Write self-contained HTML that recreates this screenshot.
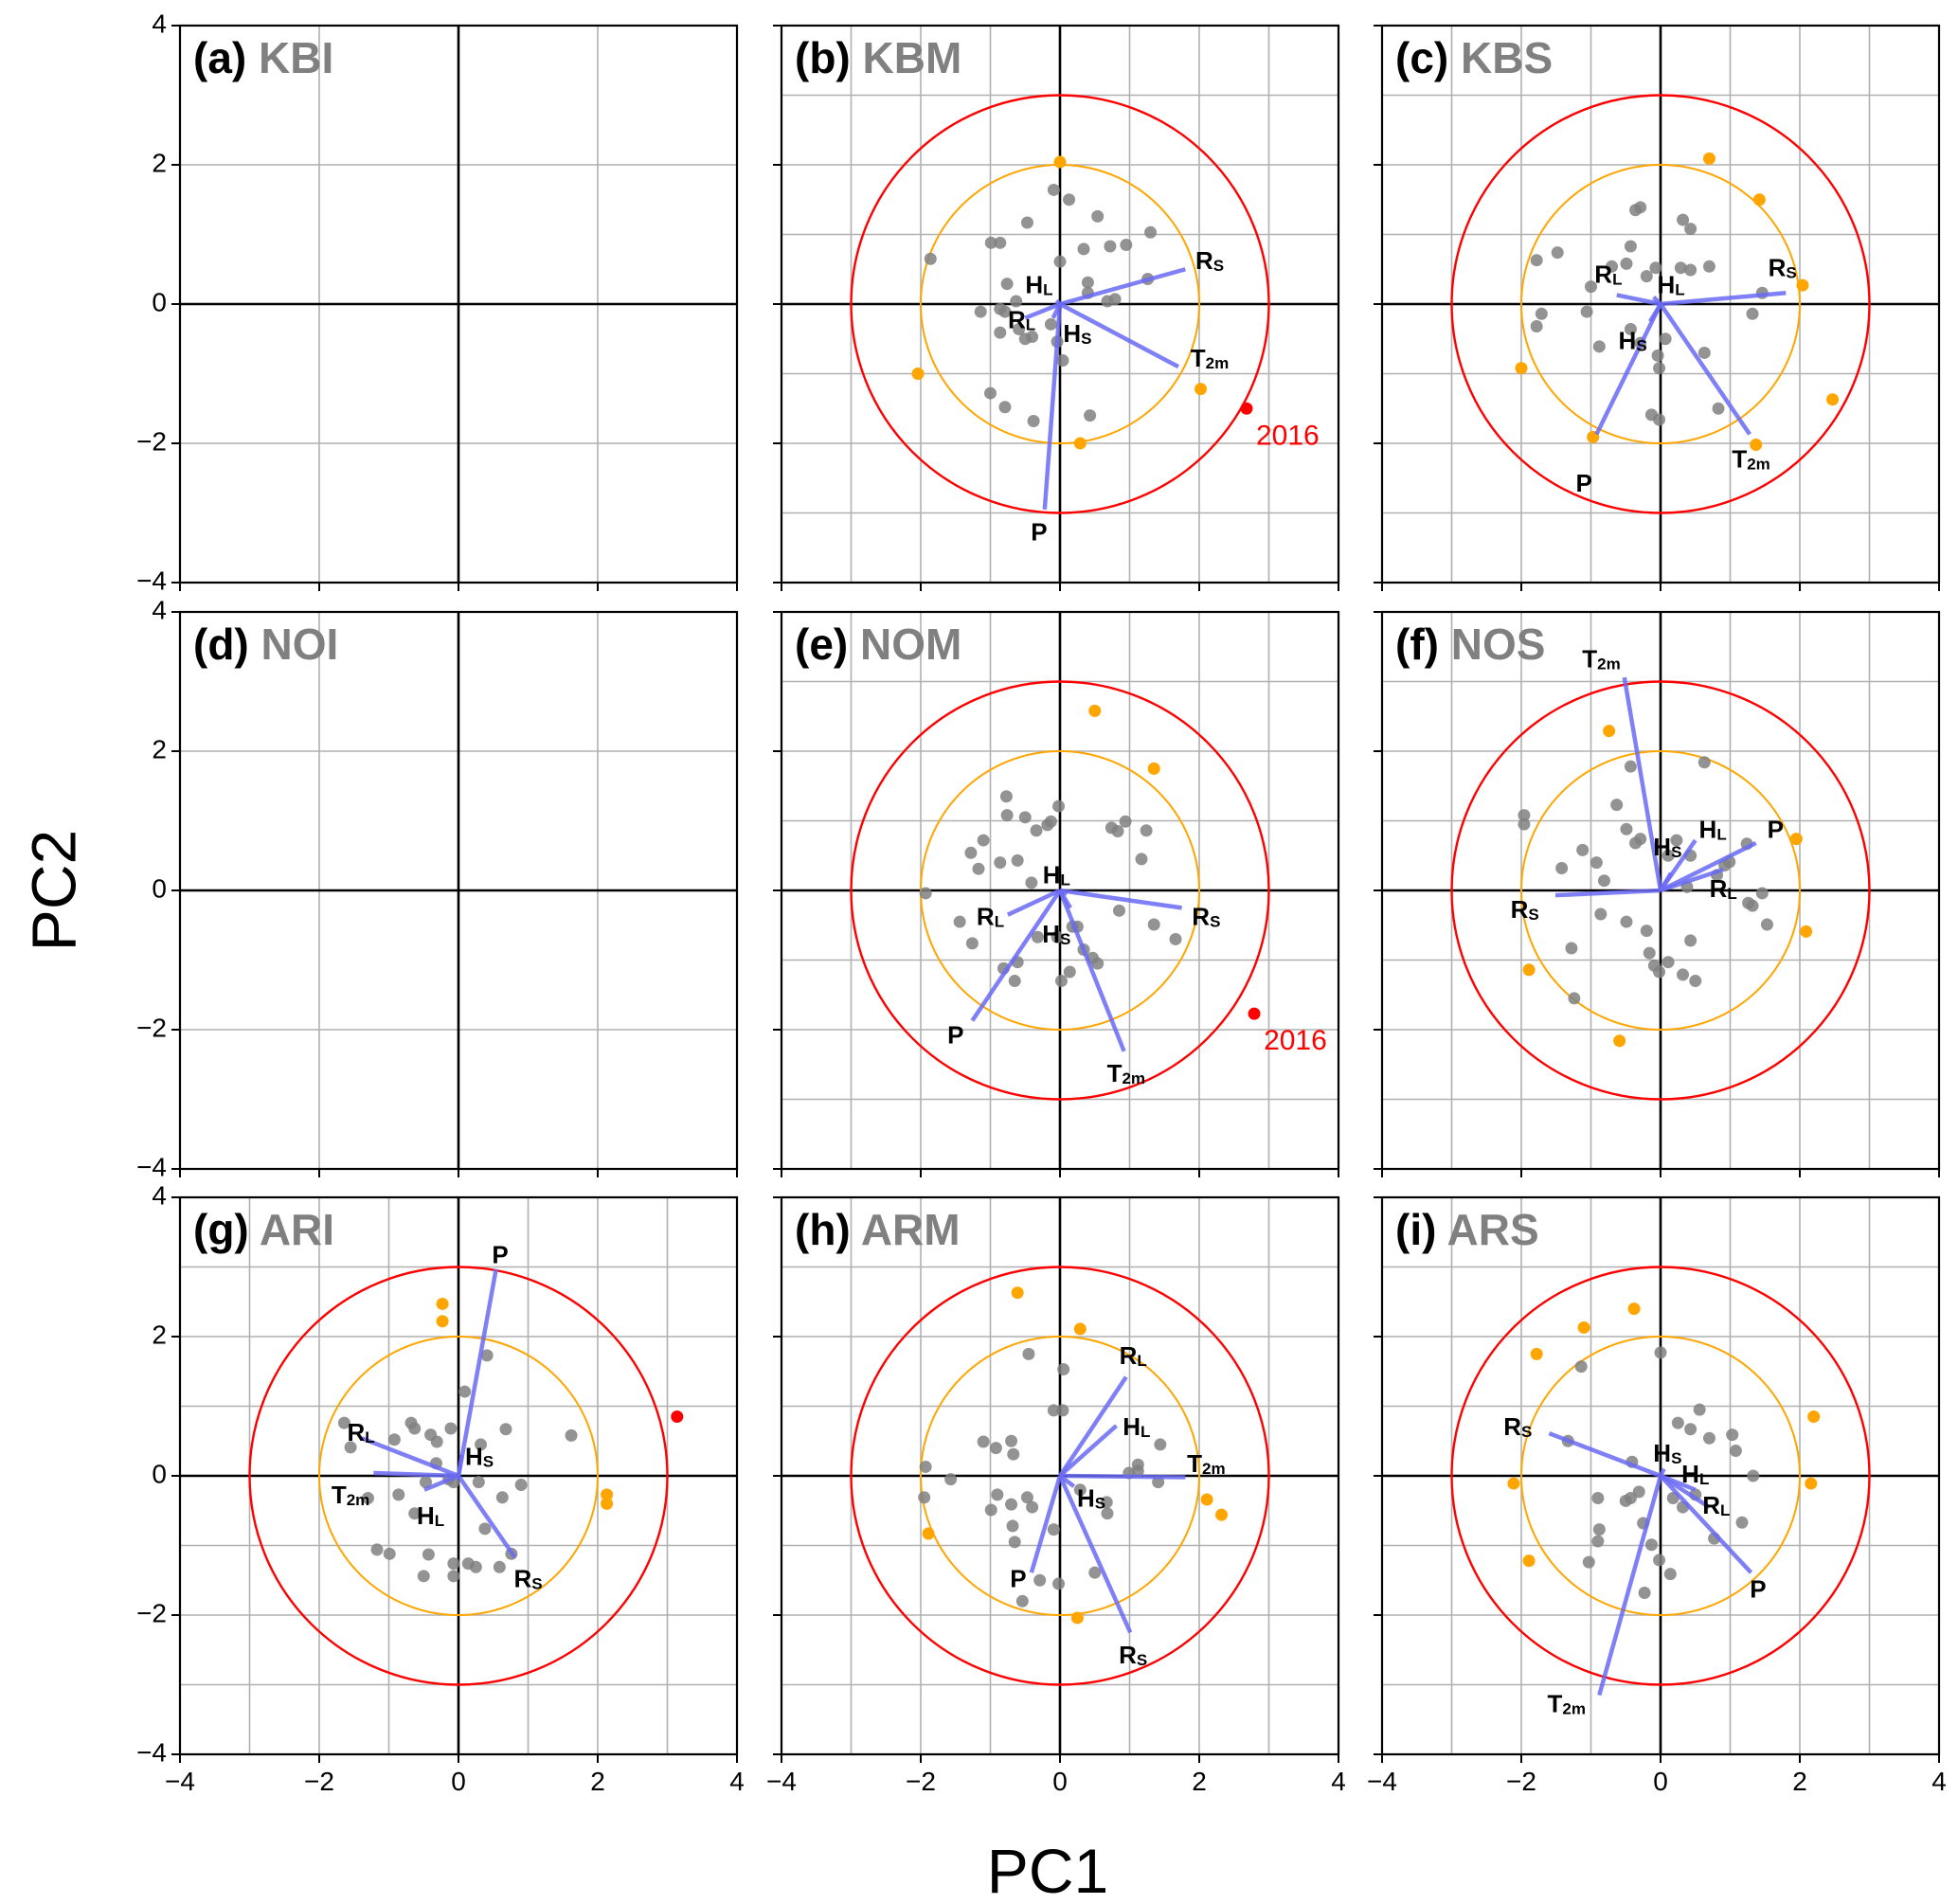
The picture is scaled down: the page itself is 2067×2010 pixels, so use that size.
<!DOCTYPE html>
<html><head><meta charset="utf-8">
<style>
html,body{margin:0;padding:0;background:#fff;}
svg{display:block;font-family:"Liberation Sans",sans-serif;}
</style></head>
<body>
<svg id="fig" width="2067" height="2010" viewBox="0 0 2067 2010" xmlns="http://www.w3.org/2000/svg">
<text x="62" y="940" font-size="66" text-anchor="middle" transform="rotate(-90 62 940)" dominant-baseline="middle">PC2</text>
<text x="1106" y="1998" font-size="66" text-anchor="middle">PC1</text>
</svg>
<script>
// ---- data (data units, PC1 / PC2) ----
const kbmGrayX=[-1.86,-0.99,-0.86,-0.47,-0.09,0.13,0.54,0.34,0.72,0.95,1.3,0,0.4,0.4,0.79,0.68,1.26,-0.76,-0.63,-1.14,-0.86,-0.79,-0.86,-0.59,-0.5,-0.4,-0.13,-0.04,0.04,-1.0,-0.79,-0.38,0.43];
const kbmGrayY=[0.65,0.88,0.88,1.17,1.64,1.5,1.26,0.79,0.83,0.85,1.03,0.61,0.31,0.16,0.07,0.04,0.36,0.29,0.04,-0.11,-0.07,-0.11,-0.41,-0.36,-0.5,-0.47,-0.29,-0.54,-0.81,-1.28,-1.48,-1.68,-1.6];
const kbmOrangeX=[0,-2.04,2.02,0.29];
const kbmOrangeY=[2.04,-1.0,-1.22,-2.0];
const kbmRedX=[2.68];
const kbmRedY=[-1.5];
const kbmArrowX=[1.8,1.7,-0.1,-0.05,-0.5,-0.22];
const kbmArrowY=[0.5,-0.9,-0.2,0.05,-0.2,-2.95];

const kbsGrayX=[-1.78,-1.48,-1.71,-1.78,-1.06,-0.88,-1.0,-0.7,-0.43,-0.49,-0.36,-0.29,-0.2,-0.07,0.32,0.43,0.29,0.43,0.7,0.07,-0.04,-0.02,-0.43,-0.29,-0.13,-0.02,0.63,0.83,1.32,1.46];
const kbsGrayY=[0.63,0.74,-0.14,-0.32,-0.11,-0.61,0.25,0.54,0.83,0.58,1.35,1.39,0.4,0.52,1.21,1.08,0.52,0.49,0.54,-0.5,-0.74,-0.92,-0.36,-0.56,-1.59,-1.66,-0.7,-1.5,-0.14,0.16];
const kbsOrangeX=[0.7,1.42,2.04,2.47,-2.0,-0.97,1.37];
const kbsOrangeY=[2.09,1.5,0.27,-1.37,-0.92,-1.91,-2.02];
const kbsArrowX=[1.8,-0.63,-0.1,-0.15,1.28,-0.92];
const kbsArrowY=[0.16,0.13,0.1,-0.25,-1.87,-1.87];

const nomGrayX=[-1.93,-1.28,-1.1,-1.17,-0.86,-0.77,-0.76,-0.5,-0.61,-0.34,-0.18,-0.13,-0.02,-0.41,-1.44,-1.26,-0.81,-0.61,-0.65,-0.32,-0.04,0.02,0.14,0.18,0.25,0.34,0.47,0.54,0.85,0.74,0.83,0.94,1.24,1.17,1.35,1.66];
const nomGrayY=[-0.04,0.54,0.72,0.31,0.4,1.35,1.08,1.05,0.43,0.86,0.94,0.99,1.21,0.11,-0.45,-0.76,-1.12,-1.03,-1.3,-0.67,-0.67,-1.3,-1.17,-0.52,-0.52,-0.85,-0.97,-1.05,-0.29,0.9,0.85,0.99,0.86,0.45,-0.49,-0.7];
const nomOrangeX=[0.5,1.35];
const nomOrangeY=[2.58,1.75];
const nomRedX=[2.79];
const nomRedY=[-1.77];
const nomArrowX=[1.75,-0.75,0.1,0.15,-1.26,0.92];
const nomArrowY=[-0.25,-0.35,-0.05,-0.25,-1.87,-2.31];

const nosGrayX=[-1.96,-1.96,-1.42,-1.12,-0.92,-0.43,-0.63,-0.49,-0.36,-0.29,-0.81,-0.86,-1.28,-1.24,-0.49,-0.2,-0.16,-0.09,0.11,-0.02,0.32,0.5,0.43,0.11,0.23,0.43,0.63,0.92,0.99,1.24,0.81,0.38,1.26,1.32,1.46,1.53];
const nosGrayY=[1.08,0.95,0.32,0.58,0.4,1.78,1.23,0.88,0.68,0.74,0.14,-0.34,-0.83,-1.55,-0.45,-0.58,-0.9,-1.08,-1.03,-1.17,-1.21,-1.3,-0.72,0.5,0.72,0.5,1.84,0.36,0.41,0.67,0.22,0.05,-0.18,-0.22,-0.04,-0.49];
const nosOrangeX=[-0.74,1.95,2.09,-1.89,-0.59];
const nosOrangeY=[2.29,0.74,-0.59,-1.14,-2.16];
const nosArrowX=[-0.52,0.5,1.37,0.15,0.9,-1.51];
const nosArrowY=[3.06,0.72,0.68,0.25,0.3,-0.07];

const ariGrayX=[-1.64,-1.55,-0.92,-0.68,-0.63,-0.4,-0.31,-0.11,0.09,0.41,0.32,0.68,1.62,-0.86,-0.63,-0.47,-0.32,-0.14,-0.07,0.29,0.63,0.9,0.38,-1.3,-1.17,-0.99,-0.43,-0.5,-0.07,-0.07,0.14,0.25,0.59,0.76];
const ariGrayY=[0.76,0.41,0.52,0.76,0.68,0.59,0.49,0.68,1.21,1.73,0.45,0.67,0.58,-0.27,-0.54,-0.09,0.18,-0.05,-0.09,-0.09,-0.31,-0.13,-0.76,-0.32,-1.06,-1.12,-1.13,-1.44,-1.26,-1.44,-1.26,-1.31,-1.31,-1.12];
const ariOrangeX=[-0.23,-0.23,2.13,2.13];
const ariOrangeY=[2.47,2.22,-0.27,-0.4];
const ariRedX=[3.14];
const ariRedY=[0.85];
const ariArrowX=[0.54,-1.39,-1.22,-0.49,0.05,0.81];
const ariArrowY=[2.97,0.54,0.04,-0.2,0.3,-1.17];

const armGrayX=[-1.93,-1.95,-1.57,-1.1,-0.92,-0.7,-0.67,-0.45,-0.99,-0.9,-0.7,-0.47,-0.4,-0.09,0.04,0.05,-0.68,-0.65,-0.09,0.29,0.68,0.67,0.5,-0.29,-0.02,-0.54,1.44,0.99,1.12,1.12,1.41];
const armGrayY=[0.13,-0.31,-0.05,0.49,0.4,0.5,0.31,1.75,-0.49,-0.27,-0.41,-0.31,-0.45,0.94,0.94,1.53,-0.72,-0.95,-0.77,-0.2,-0.54,-0.38,-1.39,-1.5,-1.55,-1.8,0.45,0.04,0.16,0.07,-0.09];
const armOrangeX=[-0.61,0.29,-1.89,2.11,2.32,0.25];
const armOrangeY=[2.63,2.11,-0.83,-0.34,-0.56,-2.04];
const armArrowX=[0.95,0.81,1.8,0.2,1.01,-0.41];
const armArrowY=[1.42,0.72,-0.02,-0.15,-2.25,-1.39];

const arsGrayX=[-1.14,0,-1.33,-0.9,-0.88,-0.9,-1.03,-0.5,-0.43,-0.31,-0.41,-0.25,-0.13,-0.02,-0.23,0.14,0.25,0.43,0.56,0.7,1.03,1.08,1.33,1.17,0.77,0.5,0.18,0.32];
const arsGrayY=[1.57,1.77,0.5,-0.32,-0.77,-0.94,-1.24,-0.36,-0.32,-0.23,0.2,-0.68,-0.99,-1.21,-1.68,-1.41,0.76,0.67,0.95,0.54,0.59,0.36,0,-0.67,-0.9,-0.27,-0.32,-0.45];
const arsOrangeX=[-1.78,-1.1,-0.38,2.2,2.16,-2.11,-1.89];
const arsOrangeY=[1.75,2.13,2.4,0.85,-0.11,-0.11,-1.22];
const arsArrowX=[-1.6,0.05,0.5,0.7,1.3,-0.88];
const arsArrowY=[0.61,0.1,-0.2,-0.45,-1.39,-3.15];

// label positions (data units) and label names
const kbmLabels=["RS","T2m","HS","HL","RL","P"];
const kbmLabX=[2.15,2.15,0.25,-0.3,-0.55,-0.3];
const kbmLabY=[0.6,-0.8,-0.45,0.25,-0.25,-3.3];
const kbsLabels=["RS","RL","HL","HS","T2m","P"];
const kbsLabX=[1.75,-0.75,0.15,-0.4,1.3,-1.1];
const kbsLabY=[0.5,0.4,0.25,-0.55,-2.25,-2.6];
const nomLabels=["RS","RL","HL","HS","P","T2m"];
const nomLabX=[2.1,-1.0,-0.05,-0.05,-1.5,0.95];
const nomLabY=[-0.4,-0.4,0.2,-0.65,-2.1,-2.65];
const nosLabels=["T2m","HL","P","HS","RL","RS"];
const nosLabX=[-0.85,0.75,1.65,0.1,0.9,-1.95];
const nosLabY=[3.3,0.85,0.85,0.6,0.0,-0.3];
const ariLabels=["P","RL","T2m","HL","HS","RS"];
const ariLabX=[0.6,-1.4,-1.55,-0.4,0.3,1.0];
const ariLabY=[3.15,0.6,-0.3,-0.6,0.25,-1.5];
const armLabels=["RL","HL","T2m","HS","RS","P"];
const armLabX=[1.05,1.1,2.1,0.45,1.05,-0.6];
const armLabY=[1.7,0.68,0.15,-0.35,-2.6,-1.5];
const arsLabels=["RS","HS","HL","RL","P","T2m"];
const arsLabX=[-2.05,0.1,0.5,0.8,1.4,-1.35];
const arsLabY=[0.68,0.3,0.0,-0.45,-1.65,-3.3];

const tickVals=[-4,-2,0,2,4];
const tickText=["\u22124","\u22122","0","2","4"];

// ---- drawing ----
const NS="http://www.w3.org/2000/svg";
const svg=document.getElementById('fig');
const PW=588, PH=588;
const colLeft=[190,825,1459], rowTop=[27,646,1264];
function el(tag,attrs,parent){const e=document.createElementNS(NS,tag);for(const k in attrs)e.setAttribute(k,attrs[k]);(parent||svg).appendChild(e);return e;}

const panels=[
 {id:'a',name:'KBI',c:0,r:0,full:false},
 {id:'b',name:'KBM',c:1,r:0,full:true,gx:kbmGrayX,gy:kbmGrayY,ox:kbmOrangeX,oy:kbmOrangeY,rx:kbmRedX,ry:kbmRedY,ax:kbmArrowX,ay:kbmArrowY,ln:kbmLabels,lx:kbmLabX,ly:kbmLabY,year:true},
 {id:'c',name:'KBS',c:2,r:0,full:true,gx:kbsGrayX,gy:kbsGrayY,ox:kbsOrangeX,oy:kbsOrangeY,ax:kbsArrowX,ay:kbsArrowY,ln:kbsLabels,lx:kbsLabX,ly:kbsLabY},
 {id:'d',name:'NOI',c:0,r:1,full:false},
 {id:'e',name:'NOM',c:1,r:1,full:true,gx:nomGrayX,gy:nomGrayY,ox:nomOrangeX,oy:nomOrangeY,rx:nomRedX,ry:nomRedY,ax:nomArrowX,ay:nomArrowY,ln:nomLabels,lx:nomLabX,ly:nomLabY,year:true},
 {id:'f',name:'NOS',c:2,r:1,full:true,gx:nosGrayX,gy:nosGrayY,ox:nosOrangeX,oy:nosOrangeY,ax:nosArrowX,ay:nosArrowY,ln:nosLabels,lx:nosLabX,ly:nosLabY},
 {id:'g',name:'ARI',c:0,r:2,full:true,gx:ariGrayX,gy:ariGrayY,ox:ariOrangeX,oy:ariOrangeY,rx:ariRedX,ry:ariRedY,ax:ariArrowX,ay:ariArrowY,ln:ariLabels,lx:ariLabX,ly:ariLabY},
 {id:'h',name:'ARM',c:1,r:2,full:true,gx:armGrayX,gy:armGrayY,ox:armOrangeX,oy:armOrangeY,ax:armArrowX,ay:armArrowY,ln:armLabels,lx:armLabX,ly:armLabY},
 {id:'i',name:'ARS',c:2,r:2,full:true,gx:arsGrayX,gy:arsGrayY,ox:arsOrangeX,oy:arsOrangeY,ax:arsArrowX,ay:arsArrowY,ln:arsLabels,lx:arsLabX,ly:arsLabY}
];

panels.forEach(p=>{
 const L=colLeft[p.c], T=rowTop[p.r];
 const sx=v=>L+(v+4)/8*PW, sy=v=>T+(4-v)/8*PH;
 const g=el('g',{});
 
 
 // grid
 const gridVals=p.full?[-3,-2,-1,1,2,3]:[-2,2];
 gridVals.forEach(v=>{
  const gl=el('line',{x1:sx(v),x2:sx(v),y1:T,y2:T+PH,stroke:'#b0b0b0','stroke-width':1.6},g);
  
  
  const gh=el('line',{x1:L,x2:L+PW,y1:sy(v),y2:sy(v),stroke:'#b0b0b0','stroke-width':1.6},g);
  
  
 });
 // zero lines
 const z1=el('line',{x1:sx(0),x2:sx(0),y1:T,y2:T+PH,stroke:'#000','stroke-width':2.6},g);
 
 
 const z2=el('line',{x1:L,x2:L+PW,y1:sy(0),y2:sy(0),stroke:'#000','stroke-width':2.6},g);
 
 
 if(p.full){
  const c2=el('circle',{cx:sx(0),cy:sy(0),r:2/8*PW,fill:'none',stroke:'#ffa500','stroke-width':2},g);
  
  
  const c3=el('circle',{cx:sx(0),cy:sy(0),r:3/8*PW,fill:'none',stroke:'#ff0000','stroke-width':2.4},g);
  
  
  p.gx.forEach((x,i)=>{
   const d=el('circle',{cx:sx(x),cy:sy(p.gy[i]),r:6.5,fill:'#808080','fill-opacity':0.85},g);
   
   
  });
  p.ox.forEach((x,i)=>{
   const d=el('circle',{cx:sx(x),cy:sy(p.oy[i]),r:6.5,fill:'#ffa500'},g);
   
   
  });
  if(p.rx){p.rx.forEach((x,i)=>{
   const d=el('circle',{cx:sx(x),cy:sy(p.ry[i]),r:6.5,fill:'#ff0000'},g);
   
   
   if(p.year){
    const t=el('text',{x:sx(x)+10,y:sy(p.ry[i])+38,'font-size':30,fill:'#ff0000'},g);
    t.textContent='2016';
    
    
   }
  });}
  p.ax.forEach((x,i)=>{
   const a=el('line',{x1:sx(0),y1:sy(0),x2:sx(x),y2:sy(p.ay[i]),stroke:'#6a6af5','stroke-opacity':0.85,'stroke-width':4.5,'stroke-linecap':'butt'},g);
   
   
  });
  p.ln.forEach((n,i)=>{
   const t=el('text',{x:sx(p.lx[i]),y:sy(p.ly[i]),'font-size':26,'font-weight':'bold','text-anchor':'middle','dominant-baseline':'middle'},g);
   
   
   const main=n.charAt(0), sub=n.slice(1);
   const t1=document.createElementNS(NS,'tspan');t1.textContent=main;t.appendChild(t1);
   const t2=document.createElementNS(NS,'tspan');t2.textContent=sub;t2.setAttribute('font-size','17');t2.setAttribute('dy','5');t.appendChild(t2);
  });
 }
 // frame
 const fr=el('rect',{x:L,y:T,width:PW,height:PH,fill:'none',stroke:'#000','stroke-width':2.2},g);
 
 
 // ticks
 tickVals.forEach((v,i)=>{
  el('line',{x1:L-9,x2:L,y1:sy(v),y2:sy(v),stroke:'#000','stroke-width':2},g);
  el('line',{x1:sx(v),x2:sx(v),y1:T+PH,y2:T+PH+9,stroke:'#000','stroke-width':2},g);
  if(p.c===0){
   const t=el('text',{x:L-14,y:sy(v),'font-size':28,'text-anchor':'end','dominant-baseline':'middle'},g);
   t.textContent=tickText[i];
   
   
  }
  if(p.r===2){
   const t=el('text',{x:sx(v),y:T+PH+38,'font-size':28,'text-anchor':'middle'},g);
   t.textContent=tickText[i];
   
   
  }
 });
 // title
 const tt=el('text',{x:L+14,y:T+50,'font-size':46,'font-weight':'bold'},g);
 
 
 const s1=document.createElementNS(NS,'tspan');s1.textContent='('+p.id+') ';tt.appendChild(s1);
 const s2=document.createElementNS(NS,'tspan');s2.textContent=p.name;s2.setAttribute('fill','#808080');tt.appendChild(s2);
});
</script>
</body></html>
